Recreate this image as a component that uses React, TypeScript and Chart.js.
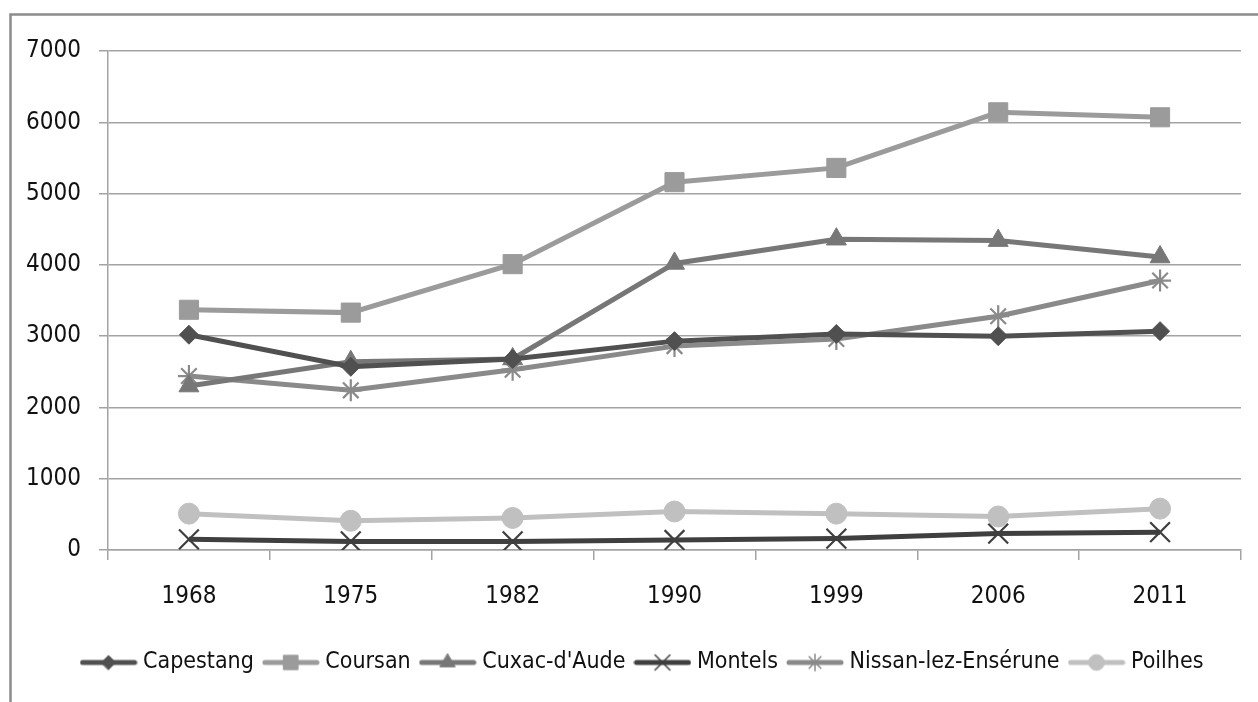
import React, { useEffect, useRef } from "react";
import { Chart, registerables } from "chart.js";
import { drawPoint } from "chart.js/helpers";

Chart.register(...registerables);

const years = ["1968", "1975", "1982", "1990", "1999", "2006", "2011"];
const capestang = [3020, 2570, 2680, 2930, 3030, 3000, 3070];
const coursan = [3370, 3330, 4010, 5160, 5360, 6140, 6070];
const cuxac = [2300, 2640, 2680, 4020, 4360, 4340, 4110];
const montels = [150, 120, 120, 140, 160, 230, 250];
const nissan = [2440, 2240, 2530, 2860, 2960, 3280, 3780];
const poilhes = [510, 410, 450, 540, 510, 470, 580];

const seriesNames = ["Capestang", "Coursan", "Cuxac-d'Aude", "Montels", "Nissan-lez-Ensérune", "Poilhes"];
const seriesColors = ["#505050", "#9b9b9b", "#777777", "#3f3f3f", "#8a8a8a", "#c0c0c0"];
const seriesMarkers = ["rectRot", "rect", "triangle", "crossRot", "star", "circle"];
const seriesRadius = [9.5, 13.5, 11.5, 14, 11, 10.5];

const FONT = "'DejaVu Sans Condensed', 'Open Sans', sans-serif";
const FSIZE = 24;
const LEGEND_FSIZE = 23;

function legendImage(color: string, marker: string, radius: number) {
  const c = document.createElement("canvas");
  c.width = 58;
  c.height = 24;
  const ctx = c.getContext("2d")!;
  ctx.strokeStyle = color;
  ctx.lineWidth = 5;
  ctx.lineCap = "round";
  ctx.beginPath();
  ctx.moveTo(3, 12);
  ctx.lineTo(55, 12);
  ctx.stroke();
  ctx.fillStyle = color;
  ctx.strokeStyle = color;
  ctx.lineWidth = marker === "crossRot" || marker === "star" ? 1.5 : 1;
  drawPoint(ctx, { pointStyle: marker as any, radius: radius * 0.75, rotation: 0, borderWidth: ctx.lineWidth }, 29, 12);
  return c;
}

const borderPlugin = {
  id: "outerBorder",
  afterLayout(chart: any) {
    if (chart.legend) {
      chart.legend.left += 14;
      chart.legend.right += 14;
    }
  },
  beforeDraw(chart: any) {
    const ctx = chart.ctx;
    ctx.save();
    ctx.strokeStyle = "#8c8c8c";
    ctx.lineWidth = 2.5;
    ctx.beginPath();
    ctx.moveTo(10.5, 702);
    ctx.lineTo(10.5, 14.5);
    ctx.lineTo(1258, 14.5);
    ctx.stroke();
    ctx.restore();
  },
};

export default function App() {
  const ref = useRef<HTMLCanvasElement>(null);
  useEffect(() => {
    const allData = [capestang, coursan, cuxac, montels, nissan, poilhes];
    const datasets = seriesNames.map((name, i) => ({
      label: name,
      data: allData[i],
      borderColor: seriesColors[i],
      backgroundColor: seriesColors[i],
      borderWidth: 5,
      pointStyle: seriesMarkers[i] as any,
      pointRadius: seriesRadius[i],
      pointBorderWidth: seriesMarkers[i] === "crossRot" || seriesMarkers[i] === "star" ? 2.2 : 1,
      pointBorderColor: seriesColors[i],
      pointBackgroundColor: seriesColors[i],
      tension: 0,
    }));
    const images = seriesNames.map((_, i) => legendImage(seriesColors[i], seriesMarkers[i], seriesRadius[i]));
    const font = { family: FONT, size: FSIZE };
    const chart = new Chart(ref.current!, {
      type: "line",
      data: { labels: years, datasets },
      plugins: [borderPlugin],
      options: {
        animation: false,
        responsive: false,
        layout: { padding: { left: 20, right: 17, top: 51, bottom: 18 } },
        plugins: {
          tooltip: { enabled: false },
          legend: {
            position: "bottom",
            labels: {
              usePointStyle: true,
              pointStyleWidth: 46,
              boxHeight: 24,
              padding: 14,
              color: "#111",
              font: { family: FONT, size: LEGEND_FSIZE },
              generateLabels: (chart: any) =>
                chart.data.datasets.map((ds: any, i: number) => ({
                  text: ds.label,
                  fillStyle: ds.borderColor,
                  strokeStyle: ds.borderColor,
                  lineWidth: 0,
                  pointStyle: images[i],
                  hidden: false,
                  datasetIndex: i,
                  fontColor: "#111",
                })),
            },
          },
        },
        scales: {
          x: {
            offset: true,
            grid: {
              offset: true,
              drawOnChartArea: false,
              drawTicks: true,
              tickLength: 10,
              color: "#a3a3a3",
              lineWidth: 1.5,
            },
            border: { color: "#a3a3a3", width: 1.5 },
            ticks: { color: "#111", padding: 22, font },
            afterFit: (s: any) => {
              s.height = 87;
            },
          },
          y: {
            min: 0,
            max: 7000,
            ticks: {
              stepSize: 1000,
              color: "#111",
              padding: 18,
              font,
              callback: (v: any) => String(v),
            },
            grid: { color: "#a3a3a3", lineWidth: 1.5, tickLength: 9 },
            border: { color: "#a3a3a3", width: 1.5 },
            afterFit: (s: any) => {
              s.width = 88;
            },
          },
        },
      },
    });
    return () => chart.destroy();
  }, []);
  return (
    <canvas
      ref={ref}
      width={1258}
      height={702}
      style={{ position: "fixed", left: 0, top: 0, width: 1258, height: 702, background: "#fff" }}
    />
  );
}
